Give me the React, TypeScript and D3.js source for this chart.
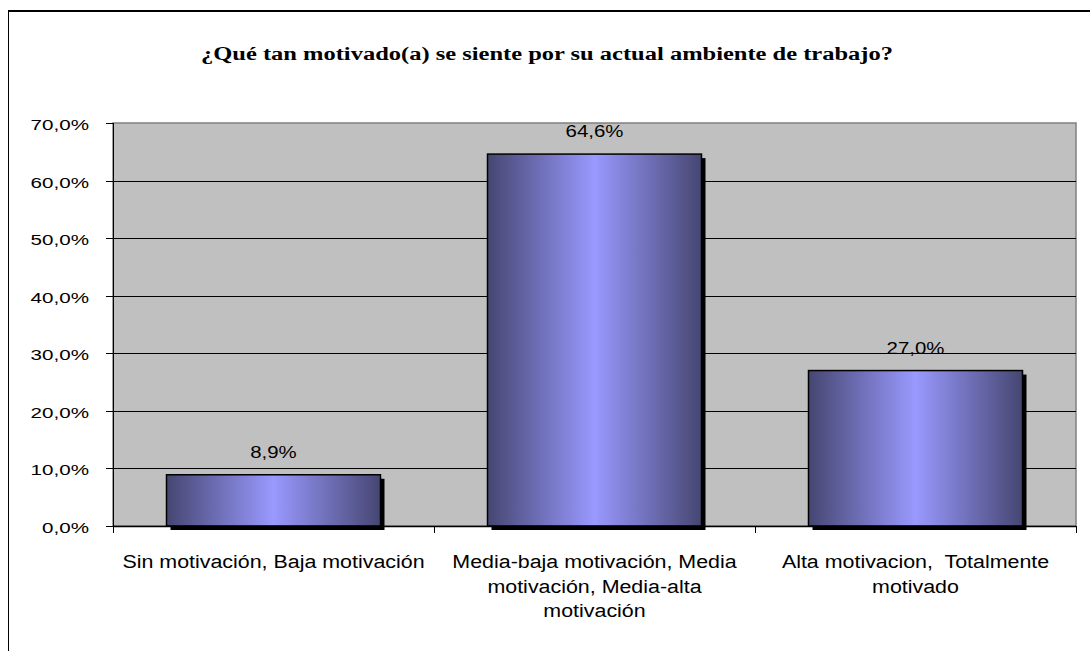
import React from "react";
import * as d3 from "d3";

const categories = [
  ["Sin motivación, Baja motivación"],
  ["Media-baja motivación, Media", "motivación, Media-alta", "motivación"],
  ["Alta motivacion,\u00a0 Totalmente", "motivado"],
];
const values = [8.9, 64.6, 27.0];
const valueLabels = ["8,9%", "64,6%", "27,0%"];
const yTicks = [0, 10, 20, 30, 40, 50, 60, 70];
const yTickLabels = ["0,0%", "10,0%", "20,0%", "30,0%", "40,0%", "50,0%", "60,0%", "70,0%"];
const title = "¿Qué tan motivado(a) se siente por su actual ambiente de trabajo?";

const W = 1090;
const H = 651;
const plot = { left: 113, right: 1076, top: 123, bottom: 526 };

export default function App() {
  const x = d3
    .scaleBand<number>()
    .domain(d3.range(values.length))
    .range([plot.left, plot.right])
    .paddingInner(1 / 3)
    .paddingOuter(1 / 6);
  const step = x.step();
  const y = d3.scaleLinear().domain([0, 70]).range([plot.bottom, plot.top]);

  const sans = "Arial, 'Liberation Sans', sans-serif";
  const st = (cx: number, cy: number, sx: number) => `translate(${cx},${cy}) scale(${sx},1)`;

  return (
    <svg width={W} height={H} style={{ position: "absolute", left: 0, top: 0, background: "#fff" }}>
      <defs>
        <linearGradient id="barGrad" x1="0" x2="1" y1="0" y2="0">
          <stop offset="0" stopColor="#464672" />
          <stop offset="0.5" stopColor="#9999ff" />
          <stop offset="1" stopColor="#464672" />
        </linearGradient>
      </defs>
      {/* outer chart border */}
      <rect x={8.5} y={11} width={W} height={H} fill="#fff" stroke="#000" strokeWidth={1} />
      <line x1={8} x2={W} y1={11} y2={11} stroke="#000" strokeWidth={2} />

      {/* title */}
      <text
        transform={st(547, 60, 1.29)}
        textAnchor="middle"
        fontFamily="'Times New Roman', 'Liberation Serif', serif"
        fontWeight="bold"
        fontSize={19}
        fill="#000"
      >
        {title}
      </text>

      {/* plot area */}
      <rect
        x={plot.left}
        y={plot.top}
        width={plot.right - plot.left}
        height={plot.bottom - plot.top}
        fill="#c0c0c0"
        stroke="#808080"
        strokeWidth={1.5}
      />
      {/* gridlines */}
      {yTicks.slice(1, -1).map((t) => (
        <line key={t} x1={plot.left} x2={plot.right} y1={Math.round(y(t)) + 0.5} y2={Math.round(y(t)) + 0.5} stroke="#000" strokeWidth={1} />
      ))}
      {/* y axis */}
      <line x1={plot.left + 0.5} x2={plot.left + 0.5} y1={plot.top} y2={plot.bottom + 6} stroke="#000" strokeWidth={1} />
      {yTicks.map((t, i) => (
        <g key={t}>
          <line x1={plot.left - 7} x2={plot.left} y1={Math.round(y(t)) + 0.5} y2={Math.round(y(t)) + 0.5} stroke="#000" />
          <text transform={st(89, y(t) + 7, 1.33)} textAnchor="end" fontFamily={sans} fontSize={15.5} fill="#000">
            {yTickLabels[i]}
          </text>
        </g>
      ))}

      {/* bars */}
      {values.map((v, i) => {
        const bx = x(i)!;
        const bw = x.bandwidth();
        const by = y(v);
        const bh = y(0) - by;
        return (
          <g key={i}>
            <rect x={bx + 4} y={by + 4} width={bw} height={bh} fill="#000" />
            <rect x={bx} y={by} width={bw} height={bh} fill="url(#barGrad)" stroke="#000" strokeWidth={1.5} />
            <text transform={st(bx + bw / 2, by - 17, 1.2)} textAnchor="middle" fontFamily={sans} fontSize={17} fill="#000">
              {valueLabels[i]}
            </text>
          </g>
        );
      })}

      {/* x axis */}
      <line x1={plot.left} x2={plot.right} y1={plot.bottom + 0.5} y2={plot.bottom + 0.5} stroke="#000" strokeWidth={1.5} />
      {d3.range(values.length + 1).map((k) => {
        const tx = Math.round(plot.left + k * step) + 0.5;
        return <line key={k} x1={tx} x2={tx} y1={plot.bottom} y2={plot.bottom + 7} stroke="#000" />;
      })}
      {categories.map((lines, i) => {
        const cx = x(i)! + x.bandwidth() / 2;
        return lines.map((ln, j) => (
          <text
            key={`${i}-${j}`}
            transform={st(cx, 568 + j * 24.5, 1.19)}
            textAnchor="middle"
            fontFamily={sans}
            fontSize={18}
            fill="#000"
          >
            {ln}
          </text>
        ));
      })}
    </svg>
  );
}
